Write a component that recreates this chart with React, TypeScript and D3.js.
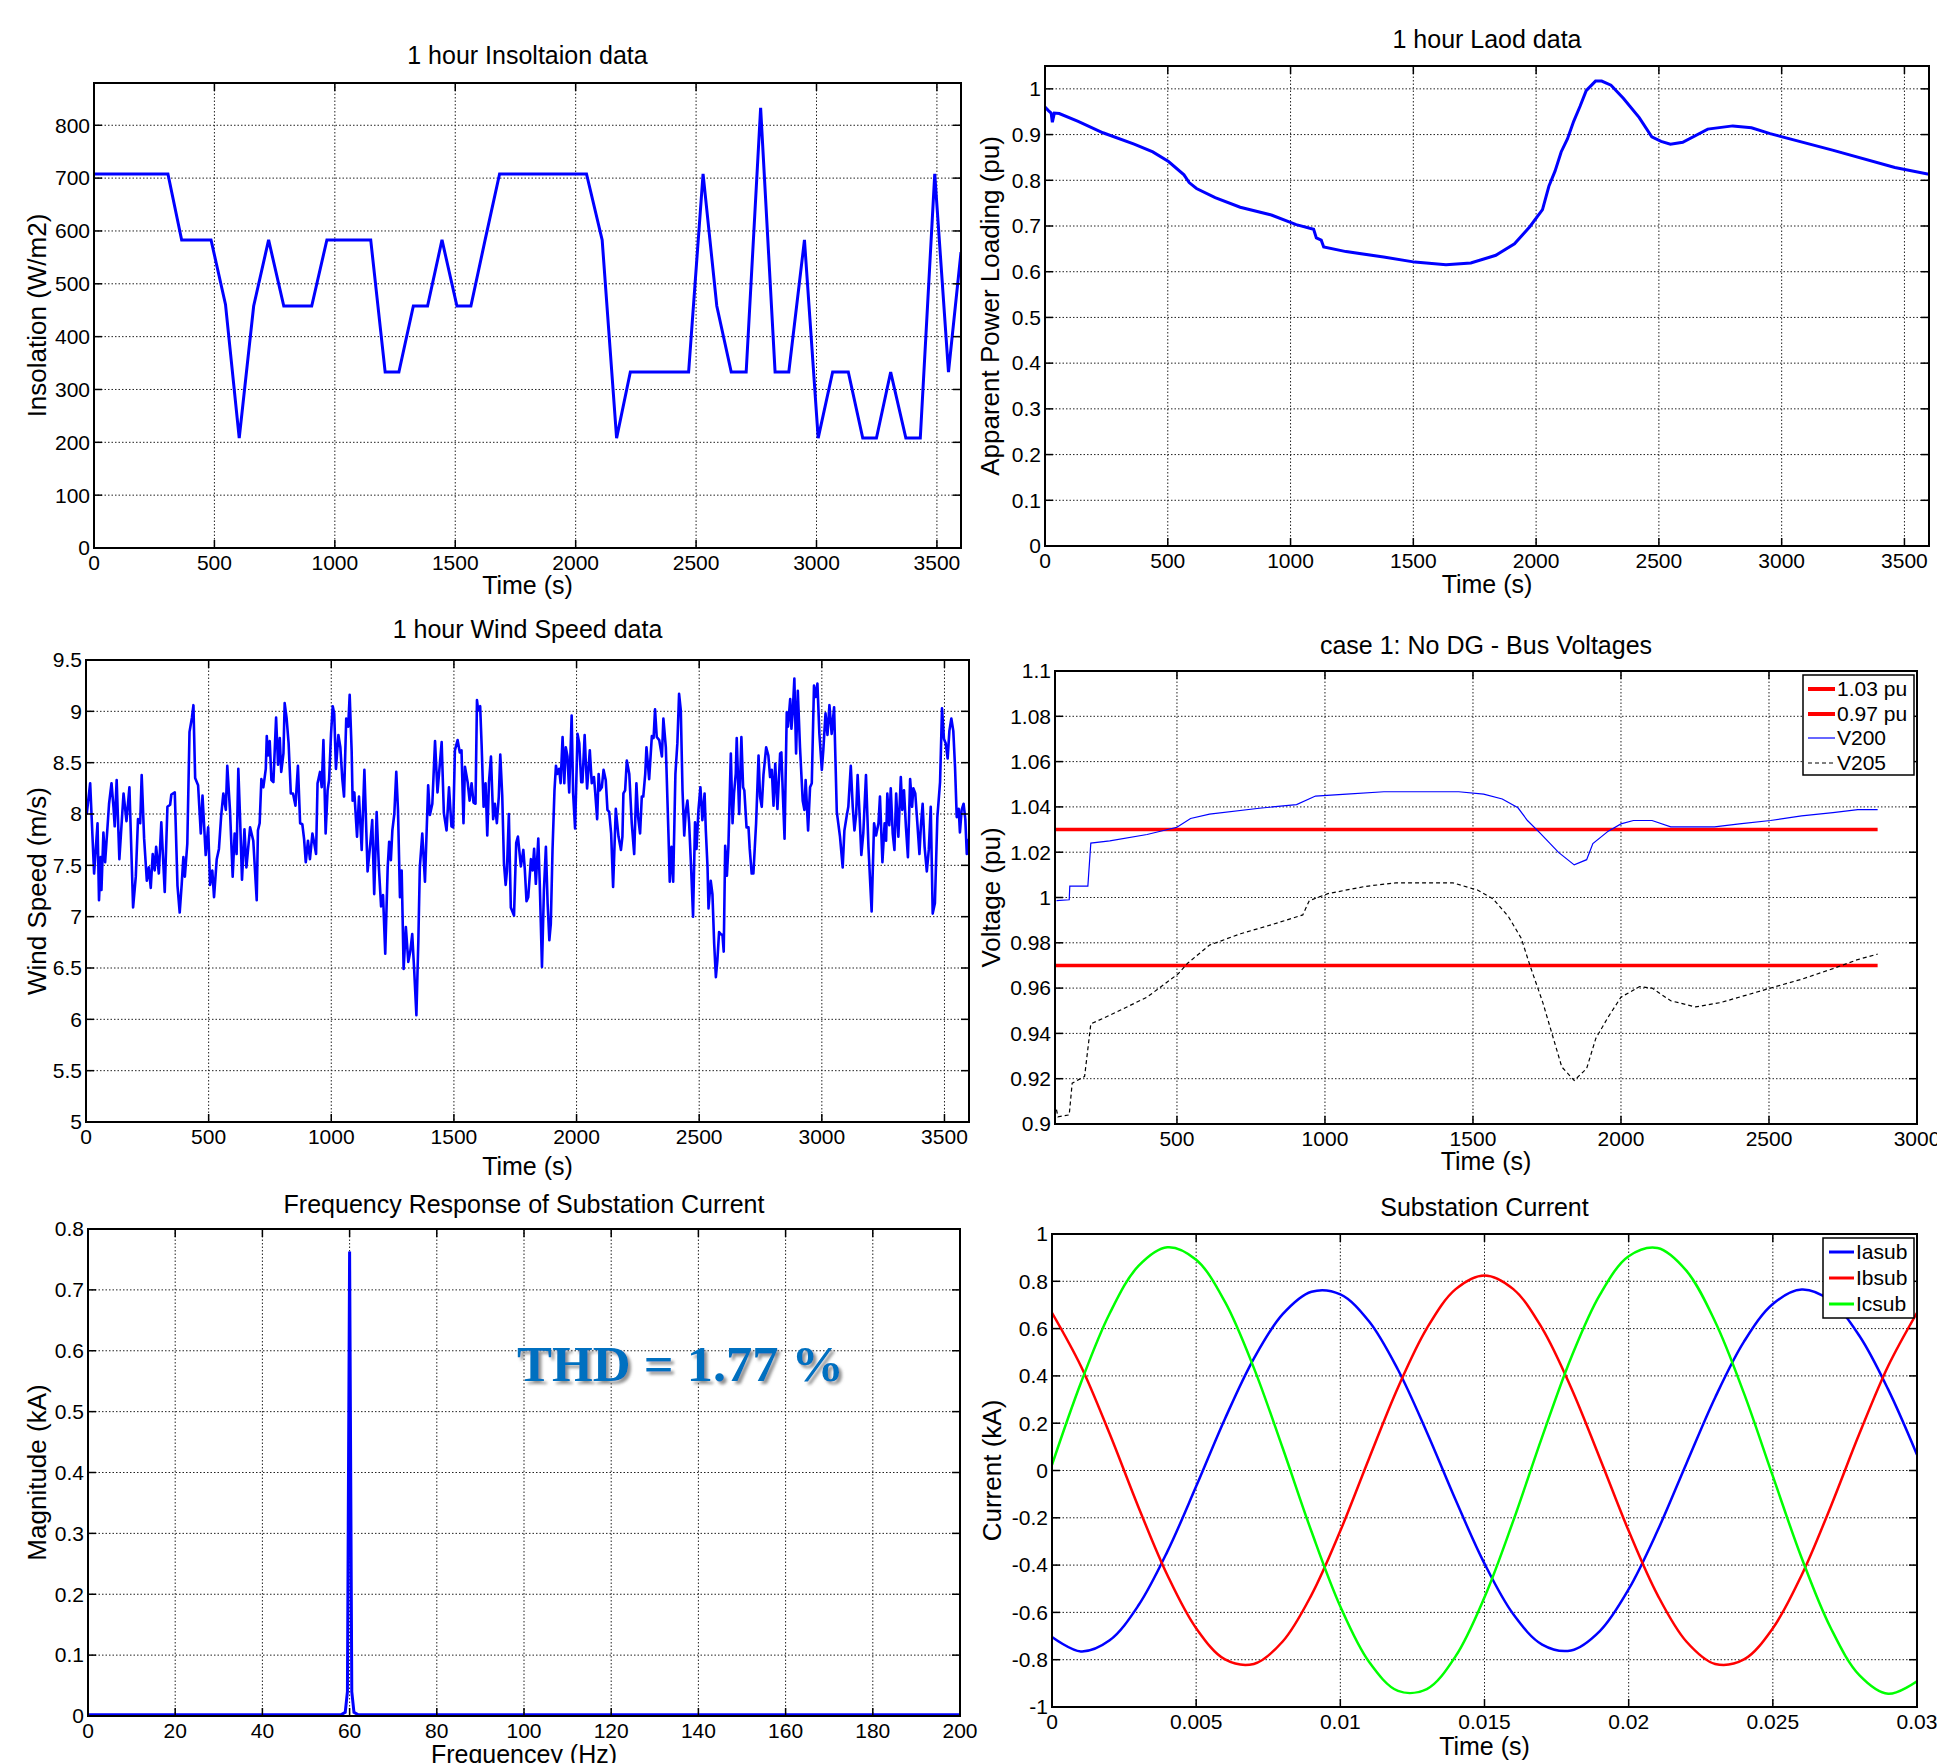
import React from "react";
import * as d3 from "d3";

const FONT = "'Liberation Sans', Arial, Helvetica, sans-serif";
const SERIF = "'Liberation Serif', 'Times New Roman', serif";

// 1 hour insolation (W/m2), piecewise profile
const insolTime = [0, 307, 364, 486, 546, 603, 663, 725, 788, 904, 967, 1149, 1209, 1266, 1326, 1385, 1445, 1507, 1565, 1624, 1684, 2045, 2110, 2170, 2227, 2469, 2529, 2586, 2646, 2708, 2768, 2828, 2885, 2950, 3007, 3067, 3132, 3192, 3249, 3308, 3371, 3431, 3491, 3548, 3600];
const insolValue = [708, 708, 583, 583, 461, 208, 458, 583, 458, 458, 583, 583, 333, 333, 458, 458, 583, 458, 458, 583, 708, 708, 583, 208, 333, 333, 708, 458, 333, 333, 833, 333, 333, 583, 208, 333, 333, 208, 208, 333, 208, 208, 708, 333, 560];

// 1 hour load (pu)
const loadPoints: [number, number][] = [
  [0, 0.96], [15, 0.952], [25, 0.947], [30, 0.927], [38, 0.947], [58, 0.946], [135, 0.929], [236, 0.904], [363, 0.879], [439, 0.862],
  [503, 0.841], [566, 0.812], [587, 0.795], [617, 0.782], [693, 0.762], [795, 0.741], [922, 0.724], [1023, 0.703], [1094, 0.693],
  [1105, 0.674], [1125, 0.669], [1135, 0.654], [1226, 0.644], [1379, 0.632], [1506, 0.621], [1633, 0.615], [1734, 0.619], [1836, 0.636],
  [1912, 0.661], [1975, 0.699], [2026, 0.736], [2052, 0.787], [2077, 0.82], [2102, 0.862], [2128, 0.891], [2153, 0.929], [2179, 0.962],
  [2204, 0.996], [2242, 1.017], [2267, 1.017], [2305, 1.008], [2356, 0.979], [2420, 0.937], [2471, 0.895], [2509, 0.885], [2547, 0.879],
  [2597, 0.883], [2699, 0.912], [2801, 0.919], [2877, 0.915], [2953, 0.902], [3207, 0.866], [3461, 0.828], [3600, 0.813],
];

// 1 hour wind speed (m/s)
const windPoints: [number, number][] = [
  [3, 8.0], [17, 8.3], [33, 7.42], [47, 7.91], [53, 7.16], [60, 7.58], [63, 7.26], [71, 7.82], [78, 7.53], [94, 8.1], [104, 8.3],
  [112, 8.07], [117, 7.88], [125, 8.33], [136, 7.56], [153, 8.2], [165, 7.93], [177, 8.26], [192, 7.09], [203, 7.39], [212, 7.95],
  [221, 7.91], [227, 8.38], [237, 7.76], [248, 7.35], [256, 7.48], [264, 7.28], [272, 7.61], [280, 7.45], [286, 7.68], [297, 7.42],
  [307, 7.92], [321, 7.24], [332, 8.07], [343, 8.09], [348, 8.19], [362, 8.21], [373, 7.3], [382, 7.04], [390, 7.31], [397, 7.58],
  [403, 7.39], [413, 7.71], [422, 8.8], [432, 8.94], [438, 9.06], [445, 8.35], [457, 8.28], [468, 7.81], [475, 8.18], [488, 7.6],
  [498, 7.87], [506, 7.31], [515, 7.45], [522, 7.19], [533, 7.56], [542, 7.66], [551, 7.98], [560, 8.2], [570, 8.04], [576, 8.47],
  [587, 8.04], [598, 7.39], [606, 7.81], [614, 7.61], [621, 8.44], [628, 7.97], [636, 7.36], [646, 7.85], [654, 7.48], [669, 7.87],
  [682, 7.74], [696, 7.16], [701, 7.84], [708, 7.91], [715, 8.34], [723, 8.26], [733, 8.44], [737, 8.76], [742, 8.57], [749, 8.71],
  [756, 8.33], [764, 8.31], [775, 8.94], [783, 8.48], [790, 8.74], [796, 8.41], [805, 8.59], [810, 9.08], [818, 8.93], [826, 8.69],
  [835, 8.2], [844, 8.2], [854, 8.08], [864, 8.47], [873, 7.91], [882, 7.9], [889, 7.76], [896, 7.53], [905, 7.74], [913, 7.56],
  [923, 7.81], [931, 7.71], [938, 7.61], [944, 8.3], [954, 8.41], [961, 8.26], [968, 8.72], [977, 7.81], [985, 8.23], [991, 8.33],
  [999, 8.78], [1006, 9.05], [1012, 8.98], [1019, 8.44], [1029, 8.77], [1037, 8.65], [1045, 8.34], [1052, 8.17], [1061, 8.93],
  [1069, 8.85], [1075, 9.16], [1083, 8.62], [1087, 8.13], [1094, 8.21], [1105, 7.78], [1113, 8.17], [1124, 7.65], [1135, 8.43],
  [1148, 7.44], [1159, 7.71], [1167, 7.94], [1175, 7.22], [1185, 8.02], [1194, 7.48], [1203, 7.1], [1211, 7.21], [1220, 6.64],
  [1230, 7.48], [1236, 7.73], [1243, 7.55], [1249, 7.84], [1257, 8.0], [1265, 8.41], [1272, 8.04], [1280, 7.19], [1287, 7.45],
  [1295, 6.49], [1304, 6.9], [1314, 6.56], [1322, 6.66], [1330, 6.83], [1338, 6.48], [1347, 6.04], [1355, 6.77], [1361, 7.48],
  [1371, 7.81], [1382, 7.34], [1395, 8.28], [1402, 7.99], [1412, 8.1], [1423, 8.71], [1433, 8.21], [1450, 8.7], [1459, 8.01],
  [1470, 7.84], [1480, 8.26], [1490, 7.88], [1497, 7.87], [1504, 8.62], [1515, 8.72], [1524, 8.6], [1531, 8.62], [1539, 7.91],
  [1545, 8.46], [1556, 8.31], [1564, 8.13], [1572, 8.3], [1580, 8.11], [1588, 8.1], [1594, 9.11], [1599, 9.01], [1607, 9.05],
  [1613, 8.67], [1621, 8.07], [1629, 8.3], [1636, 7.79], [1643, 8.31], [1651, 8.56], [1660, 7.95], [1667, 8.1], [1675, 7.91],
  [1683, 8.17], [1689, 8.58], [1697, 8.18], [1704, 7.52], [1711, 7.31], [1716, 7.44], [1724, 8.0], [1732, 7.09], [1745, 7.01],
  [1754, 7.72], [1761, 7.78], [1773, 7.49], [1783, 7.65], [1789, 7.46], [1796, 7.15], [1803, 7.19], [1814, 7.56], [1821, 7.45],
  [1827, 7.66], [1834, 7.32], [1844, 7.76], [1850, 7.32], [1859, 6.51], [1867, 7.26], [1875, 7.68], [1882, 7.13], [1889, 6.77],
  [1895, 6.93], [1902, 7.65], [1910, 8.23], [1916, 8.47], [1922, 8.39], [1929, 8.44], [1935, 8.3], [1943, 8.75], [1950, 8.3],
  [1956, 8.65], [1963, 8.56], [1970, 8.21], [1980, 8.96], [1986, 8.2], [1994, 7.86], [2004, 8.78], [2011, 8.69], [2019, 8.31],
  [2024, 8.31], [2033, 8.77], [2038, 8.49], [2043, 8.25], [2054, 8.62], [2062, 8.3], [2071, 8.36], [2076, 8.21], [2084, 7.95],
  [2090, 8.39], [2095, 8.23], [2103, 8.26], [2110, 8.43], [2119, 8.33], [2126, 8.04], [2133, 8.02], [2141, 7.81], [2149, 7.29],
  [2160, 8.05], [2171, 7.78], [2181, 7.65], [2187, 7.78], [2191, 8.2], [2198, 8.23], [2205, 8.52], [2215, 8.39], [2225, 7.91],
  [2235, 7.61], [2244, 8.3], [2251, 7.97], [2259, 7.81], [2266, 8.17], [2272, 8.17], [2280, 8.39], [2285, 8.65], [2296, 8.34],
  [2307, 8.76], [2314, 8.74], [2320, 9.02], [2327, 8.75], [2337, 8.72], [2348, 8.56], [2354, 8.93], [2364, 8.65], [2375, 7.78],
  [2380, 7.34], [2387, 7.68], [2394, 7.34], [2403, 8.39], [2411, 8.69], [2418, 9.17], [2425, 9.01], [2432, 8.23], [2439, 7.79],
  [2445, 8.02], [2452, 8.13], [2459, 7.91], [2467, 7.48], [2475, 7.0], [2483, 7.92], [2489, 7.66], [2497, 8.04], [2505, 8.26],
  [2513, 7.94], [2522, 8.2], [2527, 7.84], [2534, 7.48], [2538, 7.08], [2547, 7.35], [2554, 7.22], [2561, 6.74], [2568, 6.41],
  [2574, 6.57], [2581, 6.85], [2588, 6.83], [2595, 6.82], [2600, 6.66], [2606, 7.69], [2613, 7.4], [2619, 7.68], [2629, 8.59],
  [2636, 7.91], [2642, 8.2], [2649, 8.39], [2653, 8.74], [2663, 8.0], [2672, 8.75], [2679, 8.26], [2684, 8.23], [2693, 7.87],
  [2701, 7.87], [2706, 7.66], [2714, 7.42], [2721, 7.42], [2732, 7.91], [2742, 8.57], [2748, 8.17], [2755, 8.07], [2762, 8.38],
  [2773, 8.65], [2782, 8.57], [2789, 8.36], [2796, 8.43], [2803, 8.08], [2810, 8.49], [2819, 8.05], [2830, 8.59], [2835, 8.6],
  [2841, 8.2], [2848, 7.76], [2857, 8.99], [2862, 8.85], [2871, 9.12], [2876, 8.83], [2881, 8.98], [2888, 9.32], [2895, 8.59],
  [2902, 9.2], [2911, 8.65], [2922, 8.13], [2929, 8.04], [2934, 8.33], [2944, 7.84], [2952, 8.26], [2959, 8.3], [2968, 9.25],
  [2975, 9.14], [2982, 9.27], [2990, 8.78], [3000, 8.43], [3006, 8.62], [3015, 8.98], [3023, 8.77], [3031, 9.06], [3040, 8.78],
  [3050, 9.04], [3061, 8.02], [3074, 7.78], [3085, 7.48], [3092, 7.84], [3102, 7.99], [3108, 8.07], [3118, 8.47], [3126, 8.07],
  [3133, 7.84], [3140, 8.0], [3146, 8.38], [3153, 8.04], [3161, 7.6], [3169, 7.81], [3180, 8.38], [3190, 7.68], [3203, 7.05],
  [3213, 7.91], [3221, 7.79], [3231, 7.91], [3237, 8.17], [3247, 7.53], [3256, 7.91], [3262, 7.74], [3267, 8.2], [3275, 7.89],
  [3281, 8.25], [3289, 7.81], [3296, 7.65], [3303, 8.2], [3312, 7.78], [3322, 8.36], [3328, 8.04], [3335, 8.23], [3343, 7.87],
  [3351, 7.58], [3360, 8.34], [3368, 8.07], [3373, 8.25], [3381, 8.2], [3390, 7.89], [3398, 7.61], [3404, 7.89], [3411, 8.1],
  [3419, 7.68], [3428, 7.44], [3436, 7.65], [3444, 8.07], [3452, 7.03], [3461, 7.13], [3471, 7.97], [3482, 8.31], [3490, 9.03],
  [3498, 8.73], [3505, 8.69], [3513, 8.54], [3520, 8.81], [3528, 8.93], [3536, 8.81], [3543, 8.46], [3550, 7.97], [3558, 8.05],
  [3563, 7.82], [3570, 8.04], [3578, 8.1], [3585, 7.95], [3591, 7.61], [3597, 7.76],
];

// Case 1 bus voltages (pu)
const v200Points: [number, number][] = [
  [93, 0.9986], [136, 0.999], [138, 1.005], [199, 1.005], [209, 1.024], [273, 1.025], [399, 1.0278], [500, 1.031], [546, 1.0349],
  [610, 1.0368], [778, 1.0394], [904, 1.041], [968, 1.0448], [1073, 1.0456], [1199, 1.0467], [1452, 1.0467], [1536, 1.0456],
  [1599, 1.0435], [1652, 1.0396], [1684, 1.034], [1726, 1.0285], [1789, 1.0199], [1842, 1.0144], [1884, 1.0167], [1905, 1.0238],
  [1957, 1.0293], [2000, 1.0325], [2042, 1.034], [2105, 1.034], [2168, 1.0312], [2316, 1.0312], [2400, 1.0325], [2505, 1.034],
  [2610, 1.036], [2716, 1.0375], [2800, 1.0388], [2867, 1.0388],
];
const v205Points: [number, number][] = [
  [93, 0.9063], [98, 0.9032], [136, 0.904], [146, 0.918], [188, 0.921], [209, 0.9442], [273, 0.948], [399, 0.956], [504, 0.9663],
  [536, 0.971], [610, 0.979], [715, 0.984], [820, 0.988], [925, 0.9923], [947, 0.9986], [1010, 1.0017], [1136, 1.0049], [1241, 1.0065],
  [1431, 1.0065], [1515, 1.0033], [1568, 0.9994], [1620, 0.9915], [1663, 0.982], [1694, 0.9694], [1736, 0.9536], [1768, 0.9394],
  [1800, 0.9252], [1842, 0.9192], [1884, 0.9245], [1915, 0.9378], [1957, 0.9473], [2000, 0.956], [2063, 0.9607], [2105, 0.96],
  [2168, 0.9544], [2252, 0.9517], [2336, 0.9536], [2421, 0.9568], [2505, 0.96], [2610, 0.9639], [2716, 0.9686], [2800, 0.9726],
  [2867, 0.975],
];
const limitLevels = [1.03, 0.97];
const limitSpan = [88, 2867];

// FFT of substation current
const freqHz = [0, 58, 59, 59.5, 60, 60.5, 61, 62, 200];
const freqMag = [0.002, 0.002, 0.006, 0.04, 0.763, 0.04, 0.006, 0.002, 0.002];

// Substation phase currents (kA)
const currentTime = [0, 0.001, 0.002, 0.003, 0.004, 0.005, 0.006, 0.007, 0.008, 0.009, 0.01, 0.011, 0.012, 0.013, 0.014, 0.015,
  0.016, 0.017, 0.018, 0.019, 0.02, 0.021, 0.022, 0.023, 0.024, 0.025, 0.026, 0.027, 0.028, 0.029, 0.03];
const iaSub = [-0.704, -0.765, -0.718, -0.57, -0.343, -0.067, 0.219, 0.473, 0.661, 0.756, 0.745, 0.63, 0.426, 0.162, -0.125, -0.394,
  -0.608, -0.736, -0.761, -0.679, -0.502, -0.255, 0.029, 0.309, 0.545, 0.704, 0.765, 0.718, 0.57, 0.343, 0.067];
const ibSub = [0.667, 0.442, 0.155, -0.155, -0.442, -0.667, -0.799, -0.818, -0.723, -0.526, -0.255, 0.052, 0.351, 0.601, 0.767, 0.825,
  0.767, 0.601, 0.351, 0.052, -0.255, -0.526, -0.723, -0.818, -0.799, -0.667, -0.442, -0.155, 0.155, 0.442, 0.667];
const icSub = [0.024, 0.37, 0.664, 0.865, 0.944, 0.891, 0.713, 0.434, 0.095, -0.258, -0.575, -0.81, -0.932, -0.924, -0.785, -0.536,
  -0.212, 0.142, 0.476, 0.743, 0.906, 0.941, 0.845, 0.629, 0.326, -0.024, -0.37, -0.664, -0.865, -0.944, -0.891];

// tick values
const hourTicks = [0, 500, 1000, 1500, 2000, 2500, 3000, 3500];
const insolTicks = [0, 100, 200, 300, 400, 500, 600, 700, 800];
const loadTicks = [0, 0.1, 0.2, 0.3, 0.4, 0.5, 0.6, 0.7, 0.8, 0.9, 1];
const windTicks = [5, 5.5, 6, 6.5, 7, 7.5, 8, 8.5, 9, 9.5];
const voltTimeTicks = [500, 1000, 1500, 2000, 2500, 3000];
const voltTicks = [0.9, 0.92, 0.94, 0.96, 0.98, 1, 1.02, 1.04, 1.06, 1.08, 1.1];
const freqTicks = [0, 20, 40, 60, 80, 100, 120, 140, 160, 180, 200];
const magTicks = [0, 0.1, 0.2, 0.3, 0.4, 0.5, 0.6, 0.7, 0.8];
const curTimeTicks = [0, 0.005, 0.01, 0.015, 0.02, 0.025, 0.03];
const curTicks = [-1, -0.8, -0.6, -0.4, -0.2, 0, 0.2, 0.4, 0.6, 0.8, 1];

type Box = { left: number; right: number; top: number; bottom: number };
type Scale = d3.ScaleLinear<number, number>;

function Axes(props: {
  id: string; box: Box; xDomain: number[]; yDomain: number[]; xTicks: number[]; yTicks: number[];
  title: string; titleY: number; xLabel: string; xLabelY: number; yLabel: string; yLabelX: number;
  draw: (x: Scale, y: Scale) => React.ReactNode; overlay?: React.ReactNode;
}) {
  const { id, box, xTicks, yTicks } = props;
  const x = d3.scaleLinear().domain(props.xDomain).range([box.left, box.right]);
  const y = d3.scaleLinear().domain(props.yDomain).range([box.bottom, box.top]);
  const tk = 8;
  const cx = (box.left + box.right) / 2;
  const cy = (box.top + box.bottom) / 2;
  return (
    <g fontFamily={FONT}>
      <clipPath id={id}>
        <rect x={box.left} y={box.top} width={box.right - box.left} height={box.bottom - box.top} />
      </clipPath>
      {/* dotted grid */}
      <g stroke="#222" strokeWidth={1} strokeDasharray="1.5,2">
        {xTicks.map((t) => (
          <line key={"gx" + t} x1={x(t)} x2={x(t)} y1={box.top} y2={box.bottom} />
        ))}
        {yTicks.map((t) => (
          <line key={"gy" + t} x1={box.left} x2={box.right} y1={y(t)} y2={y(t)} />
        ))}
      </g>
      <g clipPath={`url(#${id})`}>{props.draw(x, y)}</g>
      <rect x={box.left} y={box.top} width={box.right - box.left} height={box.bottom - box.top}
        fill="none" stroke="#000" strokeWidth={2} />
      {/* inward ticks on all four sides */}
      <g stroke="#000" strokeWidth={1.5}>
        {xTicks.map((t) => (
          <g key={"tx" + t}>
            <line x1={x(t)} x2={x(t)} y1={box.bottom} y2={box.bottom - tk} />
            <line x1={x(t)} x2={x(t)} y1={box.top} y2={box.top + tk} />
          </g>
        ))}
        {yTicks.map((t) => (
          <g key={"ty" + t}>
            <line x1={box.left} x2={box.left + tk} y1={y(t)} y2={y(t)} />
            <line x1={box.right} x2={box.right - tk} y1={y(t)} y2={y(t)} />
          </g>
        ))}
      </g>
      <g fontSize={21} fill="#000">
        {xTicks.map((t) => (
          <text key={"lx" + t} x={x(t)} y={box.bottom + 22} textAnchor="middle">{String(t)}</text>
        ))}
        {yTicks.map((t) => (
          <text key={"ly" + t} x={box.left - 4} y={y(t)} dy="0.35em" textAnchor="end">{String(t)}</text>
        ))}
      </g>
      {props.overlay}
      <text x={cx} y={props.titleY} textAnchor="middle" fontSize={25}>{props.title}</text>
      <text x={cx} y={props.xLabelY} textAnchor="middle" fontSize={25}>{props.xLabel}</text>
      <text transform={`translate(${props.yLabelX},${cy}) rotate(-90)`} textAnchor="middle" fontSize={26}>
        {props.yLabel}
      </text>
    </g>
  );
}

function Legend(props: { x: number; y: number; w: number; h: number; rowY: number[]; sample: [number, number];
  items: { label: string; color: string; width: number; dash?: string }[] }) {
  return (
    <g fontFamily={FONT}>
      <rect x={props.x} y={props.y} width={props.w} height={props.h} fill="#fff" stroke="#000" strokeWidth={1.5} />
      {props.items.map((it, i) => (
        <g key={it.label}>
          <line x1={props.sample[0]} x2={props.sample[1]} y1={props.rowY[i]} y2={props.rowY[i]}
            stroke={it.color} strokeWidth={it.width} strokeDasharray={it.dash} />
          <text x={props.sample[1] + 2} y={props.rowY[i]} dy="0.35em" fontSize={21}>{it.label}</text>
        </g>
      ))}
    </g>
  );
}

function pairLine(x: Scale, y: Scale, pts: [number, number][], curve = d3.curveLinear) {
  return d3.line<[number, number]>().x((d) => x(d[0])).y((d) => y(d[1])).curve(curve)(pts) || "";
}

export default function App() {
  const insolPts = insolTime.map((t, i) => [t, insolValue[i]] as [number, number]);
  const fftPts = freqHz.map((f, i) => [f, freqMag[i]] as [number, number]);
  const phases = [
    { label: "Iasub", color: "#0000ff", values: iaSub },
    { label: "Ibsub", color: "#ff0000", values: ibSub },
    { label: "Icsub", color: "#00ff00", values: icSub },
  ];

  return (
    <svg width={1937} height={1763} style={{ position: "absolute", left: 0, top: 0, background: "#fff" }}>
      <defs>
        <filter id="thdShadow" x="-10%" y="-30%" width="130%" height="170%">
          <feDropShadow dx={3} dy={3} stdDeviation={1.6} floodColor="#777" floodOpacity={0.8} />
        </filter>
      </defs>
      <rect width={1937} height={1763} fill="#fff" />

      <Axes id="c1" box={{ left: 94, right: 961, top: 83, bottom: 548 }} xDomain={[0, 3600]} yDomain={[0, 880]}
        xTicks={hourTicks} yTicks={insolTicks} title="1 hour Insoltaion data" titleY={64}
        xLabel="Time (s)" xLabelY={594} yLabel="Insolation (W/m2)" yLabelX={46}
        draw={(x, y) => <path d={pairLine(x, y, insolPts)} fill="none" stroke="#0000ff" strokeWidth={3} />} />

      <Axes id="c2" box={{ left: 1045, right: 1929, top: 66, bottom: 546 }} xDomain={[0, 3600]} yDomain={[0, 1.05]}
        xTicks={hourTicks} yTicks={loadTicks} title="1 hour Laod data" titleY={48}
        xLabel="Time (s)" xLabelY={593} yLabel="Apparent Power Loading (pu)" yLabelX={999}
        draw={(x, y) => <path d={pairLine(x, y, loadPoints)} fill="none" stroke="#0000ff" strokeWidth={3} />} />

      <Axes id="c3" box={{ left: 86, right: 969, top: 660, bottom: 1122 }} xDomain={[0, 3600]} yDomain={[5, 9.5]}
        xTicks={hourTicks} yTicks={windTicks} title="1 hour Wind Speed data" titleY={638}
        xLabel="Time (s)" xLabelY={1175} yLabel="Wind Speed (m/s)" yLabelX={46}
        draw={(x, y) => <path d={pairLine(x, y, windPoints)} fill="none" stroke="#0000ff" strokeWidth={2.6} strokeLinejoin="round" />} />

      <Axes id="c4" box={{ left: 1055, right: 1917, top: 671, bottom: 1124 }} xDomain={[88, 3000]} yDomain={[0.9, 1.1]}
        xTicks={voltTimeTicks} yTicks={voltTicks} title="case 1: No DG - Bus Voltages" titleY={654}
        xLabel="Time (s)" xLabelY={1170} yLabel="Voltage (pu)" yLabelX={1000}
        draw={(x, y) => (
          <g fill="none">
            {limitLevels.map((lv) => (
              <line key={lv} x1={x(limitSpan[0])} x2={x(limitSpan[1])} y1={y(lv)} y2={y(lv)} stroke="#ff0000" strokeWidth={3.5} />
            ))}
            <path d={pairLine(x, y, v200Points)} stroke="#0000ff" strokeWidth={1.2} />
            <path d={pairLine(x, y, v205Points)} stroke="#000" strokeWidth={1.2} strokeDasharray="4,3" />
          </g>
        )}
        overlay={
          <Legend x={1803} y={675} w={111} h={100} rowY={[689, 714, 738, 763]} sample={[1808, 1835]}
            items={[
              { label: "1.03 pu", color: "#ff0000", width: 4 },
              { label: "0.97 pu", color: "#ff0000", width: 4 },
              { label: "V200", color: "#0000ff", width: 1.2 },
              { label: "V205", color: "#000", width: 1.2, dash: "4,3" },
            ]} />
        } />

      <Axes id="c5" box={{ left: 88, right: 960, top: 1229, bottom: 1716 }} xDomain={[0, 200]} yDomain={[0, 0.8]}
        xTicks={freqTicks} yTicks={magTicks} title="Frequency Response of Substation Current" titleY={1213}
        xLabel="Frequencey (Hz)" xLabelY={1763} yLabel="Magnitude (kA)" yLabelX={46}
        draw={(x, y) => <path d={pairLine(x, y, fftPts)} fill="none" stroke="#0000ff" strokeWidth={3} />}
        overlay={
          <text x={517} y={1381} fontFamily={SERIF} fontWeight="bold" fontSize={51} fill="#0070c0"
            filter="url(#thdShadow)" textLength={327} lengthAdjust="spacingAndGlyphs">THD = 1.77 %</text>
        } />

      <Axes id="c6" box={{ left: 1052, right: 1917, top: 1234, bottom: 1707 }} xDomain={[0, 0.03]} yDomain={[-1, 1]}
        xTicks={curTimeTicks} yTicks={curTicks} title="Substation Current" titleY={1216}
        xLabel="Time (s)" xLabelY={1755} yLabel="Current (kA)" yLabelX={1001}
        draw={(x, y) => (
          <g fill="none">
            {phases.map((p) => (
              <path key={p.label} stroke={p.color} strokeWidth={2.5}
                d={pairLine(x, y, currentTime.map((t, i) => [t, p.values[i]] as [number, number]), d3.curveCatmullRom)} />
            ))}
          </g>
        )}
        overlay={
          <Legend x={1823} y={1238} w={91} h={80} rowY={[1252, 1278, 1304]} sample={[1829, 1854]}
            items={phases.map((p) => ({ label: p.label, color: p.color, width: 3 }))} />
        } />
    </svg>
  );
}
